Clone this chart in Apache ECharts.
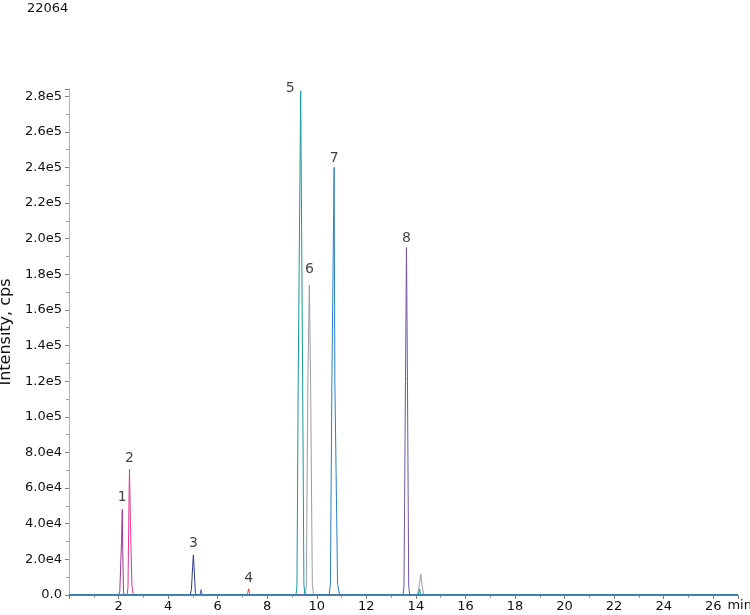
<!DOCTYPE html>
<html>
<head>
<meta charset="utf-8">
<script src="https://cdn.jsdelivr.net/npm/echarts@6/dist/echarts.min.js"></script>
<style>html,body{margin:0;padding:0;background:#fff}#c{width:750px;height:615px}</style>
</head>
<body>
<div id="c"></div>
<script>
// ---- data (time in min, intensity in cps) ----
const titleText = '22064';
const yAxisName = 'Intensity, cps';
const xAxisName = 'min';
const xRange = [0, 27];
const yRange = [0, 284000];
const xInterval = 2;
const yInterval = 20000;

const trace1 = [[0,0],[2.0,0],[2.05,2000],[2.12,30000],[2.15,48000],[2.17,25000],[2.2,2000],[2.23,0],[27,0]];
const trace2 = [[0,0],[2.34,0],[2.38,4000],[2.42,50000],[2.44,70500],[2.48,40000],[2.54,5000],[2.6,0],[27,0]];
const trace3 = [[0,0],[4.89,0],[4.94,3000],[4.99,16000],[5.02,22500],[5.06,12000],[5.1,1500],[5.13,0],[27,0]];
const trace4 = [[0,0],[7.18,0],[7.22,1500],[7.25,3500],[7.28,1500],[7.31,0],[27,0]];
const trace5 = [[0,0],[9.16,0],[9.2,5000],[9.25,120000],[9.35,283000],[9.43,120000],[9.48,6000],[9.52,0],[14.1,0],[14.15,3300],[14.2,0],[27,0]];
const trace6 = [[0,0],[9.54,0],[9.58,6000],[9.64,120000],[9.7,174000],[9.75,120000],[9.82,6000],[9.87,0],[14.06,0],[14.13,5000],[14.2,11800],[14.26,4000],[14.33,0],[27,0]];
const trace7 = [[0,0],[10.5,0],[10.55,6000],[10.61,120000],[10.7,240000],[10.73,120000],[10.84,6000],[10.92,0],[27,0]];
const trace8 = [[0,0],[5.29,0],[5.33,3000],[5.37,0],[13.48,0],[13.52,5000],[13.58,120000],[13.62,195000],[13.66,120000],[13.71,5000],[13.75,0],[27,0]];

const traces = [trace1, trace2, trace3, trace4, trace6, trace8, trace5, trace7];
const traceColors = ['#9c3595', '#e6338c', '#2e3a8c', '#e8343c', '#9a9ca3', '#6f55a5', '#17999a', '#2a80c8'];

// peak labels: label text and which trace holds that peak
const peakNames = ['1', '2', '3', '4', '5', '6', '7', '8'];
const peakTraces = [trace1, trace2, trace3, trace4, trace5, trace6, trace7, trace8];

// ---- build ----
const FONT = 'DejaVu Sans';
function peakOf(tr) {
  let best = tr[0];
  tr.forEach(p => { if (p[1] > best[1]) best = p; });
  return best;
}
const labelStyle = [
  {position: 'top', distance: 5},
  {position: 'top', distance: 4},
  {position: 'top', distance: 5},
  {position: 'top', distance: 3},
  {position: 'left', distance: 6, offset: [0, -2]},
  {position: 'top', distance: 9},
  {position: 'top', distance: 2},
  {position: 'top', distance: 2}
];
const labelData = peakNames.map((n, i) => {
  const p = peakOf(peakTraces[i]);
  return {
    value: [p[0], p[1]],
    label: Object.assign({show: true, formatter: n, color: '#111', fontSize: 14, fontFamily: FONT}, labelStyle[i])
  };
});

const series = traces.map((tr, i) => ({
  type: 'line',
  data: tr,
  showSymbol: false,
  symbol: 'none',
  lineStyle: {width: 1, color: traceColors[i]},
  itemStyle: {color: traceColors[i]},
  animation: false,
  z: 2 + i
}));
series.push({
  type: 'scatter',
  data: labelData,
  symbolSize: 0,
  silent: true,
  animation: false,
  z: 20
});

const chart = echarts.init(document.getElementById('c'), null, {renderer: 'canvas'});
chart.setOption({
  backgroundColor: '#fff',
  animation: false,
  title: {
    text: titleText, left: 27, top: 2, padding: 0,
    textStyle: {fontFamily: FONT, fontSize: 13, fontWeight: 'normal', color: '#111'}
  },
  grid: {left: 69, right: 12, top: 89, bottom: 20, containLabel: false, outerBoundsMode: 'none'},
  xAxis: {
    type: 'value', min: xRange[0], max: xRange[1], interval: xInterval,
    name: xAxisName, nameLocation: 'end', nameGap: -13,
    nameTextStyle: {fontFamily: FONT, fontSize: 13, color: '#111', verticalAlign: 'top', align: 'left', padding: [4, 0, 0, 0]},
    axisLine: {onZero: false, lineStyle: {color: '#b4b4b4'}},
    axisTick: {show: true, length: 4, lineStyle: {color: '#808080'}},
    minorTick: {show: true, splitNumber: 2, length: 3, lineStyle: {color: '#a0a0a0'}},
    axisLabel: {fontFamily: FONT, fontSize: 13, color: '#111', margin: 5, showMinLabel: false, showMaxLabel: false},
    splitLine: {show: false}
  },
  yAxis: {
    type: 'value', min: yRange[0], max: yRange[1], interval: yInterval,
    name: yAxisName, nameLocation: 'middle', nameGap: 52, nameRotate: 90,
    nameTextStyle: {fontFamily: FONT, fontSize: 16, color: '#111', padding: [0, 0, 0, 20]},
    axisLine: {show: true, lineStyle: {color: '#b4b4b4'}},
    axisTick: {show: true, length: 4, lineStyle: {color: '#808080'}},
    minorTick: {show: true, splitNumber: 2, length: 3, lineStyle: {color: '#a0a0a0'}},
    axisLabel: {
      fontFamily: FONT, fontSize: 13, color: '#111', margin: 7, showMaxLabel: false,
      formatter: v => v === 0 ? '0.0' : v.toExponential(1).replace('+', '')
    },
    splitLine: {show: false}
  },
  series: series
});
</script>
</body>
</html>
